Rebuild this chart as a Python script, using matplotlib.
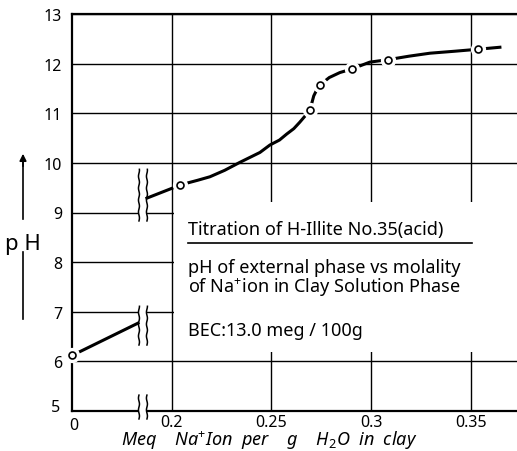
import numpy as np
import matplotlib
matplotlib.use("Agg")
import matplotlib.pyplot as plt
import matplotlib.transforms as mtransforms
from matplotlib.patches import Rectangle

# ---- data ----
# left piece of the broken axis (meq from 0), drawn shifted to the "0" tick
left_meq = [0.0, 0.033]
left_ph = [6.12, 6.77]
left_marker_meq = [0.0]
left_marker_ph = [6.12]

# right piece (true meq scale)
curve_meq = [0.1875, 0.2040, 0.2074, 0.2130, 0.2191, 0.2265, 0.2341, 0.2442,
             0.2492, 0.2540, 0.2576, 0.2612, 0.2642, 0.2676, 0.2692, 0.2702,
             0.2712, 0.2728, 0.2743, 0.2790, 0.2843, 0.2902, 0.2993, 0.3085,
             0.3190, 0.3295, 0.3420, 0.3537, 0.3646]
curve_ph = [9.29, 9.55, 9.59, 9.65, 9.72, 9.85, 10.01, 10.21,
            10.36, 10.46, 10.58, 10.69, 10.82, 10.98, 11.07, 11.20,
            11.35, 11.48, 11.57, 11.72, 11.82, 11.89, 12.03, 12.08,
            12.15, 12.21, 12.25, 12.29, 12.33]
marker_meq = [0.2040, 0.2692, 0.2743, 0.2902, 0.3085, 0.3537]
marker_ph = [9.55, 11.07, 11.57, 11.89, 12.08, 12.29]

xtick_pos = [0.15, 0.2, 0.25, 0.3, 0.35]
xtick_labels = ["0", "0.2", "0.25", "0.3", "0.35"]
yticks = [5, 6, 7, 8, 9, 10, 11, 12, 13]

LEFT_OFFSET = 0.15  # where meq 0 of the left piece sits on the axis
BREAK_X = [0.1835, 0.1875]

plt.rcParams["font.family"] = ["Noto Sans", "DejaVu Sans"]
plt.rcParams["mathtext.fontset"] = "custom"
plt.rcParams["mathtext.rm"] = "Noto Sans"
plt.rcParams["mathtext.it"] = "Noto Sans:italic"

fig = plt.figure(figsize=(5.17, 4.52), dpi=100)
ax = fig.add_axes([72 / 517, 40 / 452, 450 / 517, 397 / 452])
ax.set_xlim(0.1499, 0.1499 + 450 / 1993)
ax.set_ylim(5, 13)

# grid
for y in yticks[1:]:
    ax.axhline(y, color="black", lw=1.0, zorder=1)
for x in xtick_pos[1:]:
    ax.axvline(x, color="black", lw=1.0, zorder=1)

# blank panel that holds the caption
ax.add_patch(Rectangle((0.2012, 6.19), 0.3, 3.02, facecolor="white",
                       edgecolor="none", zorder=1.5))

# break marks (wavy double lines) with a white gap between
def wavy(xc, y0, y1):
    yy = np.linspace(y0, y1, 40)
    xx = xc + 0.00025 * np.sin((yy - y0) / 0.12 * np.pi)
    ax.plot(xx, yy, color="black", lw=1.1, zorder=4, clip_on=False)

for y0, y1 in [(8.83, 9.87), (6.33, 7.11), (4.84, 5.32)]:
    ax.add_patch(Rectangle((BREAK_X[0], y0 + 0.04), BREAK_X[1] - BREAK_X[0],
                           y1 - y0 - 0.08, facecolor="white", edgecolor="none",
                           zorder=3, clip_on=False))
    for xc in BREAK_X:
        wavy(xc, y0, y1)

# curves
lx = [m + LEFT_OFFSET for m in left_meq]
ax.plot(lx, left_ph, color="black", lw=2.2, zorder=5)
ax.plot(curve_meq, curve_ph, color="black", lw=2.2, zorder=5,
        solid_joinstyle="round")
mx = [m + LEFT_OFFSET for m in left_marker_meq] + marker_meq
my = left_marker_ph + marker_ph
ax.plot(mx, my, "o", ms=10, color="white", mec="white", zorder=6, clip_on=False)
ax.plot(mx, my, "o", ms=5, mfc="white", mec="black", mew=1.2, zorder=7,
        clip_on=False)

# spines
for s in ["left", "bottom", "top"]:
    ax.spines[s].set_linewidth(1.6)
ax.spines["right"].set_visible(False)

ax.set_xticks(xtick_pos)
ax.set_xticklabels(xtick_labels)
ax.set_yticks(yticks)
ax.set_yticklabels([str(v) for v in yticks])
ax.tick_params(length=0, labelsize=11.5, pad=7)
ax.tick_params(axis="x", pad=2)

# the "5" sits a bit high, the "0" a bit low, as in the original
lab5 = ax.get_yticklabels()[0]
lab5.set_transform(lab5.get_transform() +
                   mtransforms.ScaledTranslation(-2 / 100, 6 / 100, fig.dpi_scale_trans))
lab0 = ax.get_xticklabels()[0]
lab0.set_transform(lab0.get_transform() +
                   mtransforms.ScaledTranslation(2 / 100, -3 / 100, fig.dpi_scale_trans))

# caption
cx = 0.2082
ax.text(cx, 8.665, "Titration of H-Illite No.35(acid)", fontsize=13,
        va="center", zorder=8)
ax.plot([cx, 0.3505], [8.38, 8.38], color="black", lw=1.2, zorder=8)
ax.text(cx, 7.68,
        "pH of external phase vs molality\nof Na$^{+}$ion in Clay Solution Phase",
        fontsize=13, va="center", linespacing=1.0, zorder=8)
ax.text(cx, 6.63, "BEC:13.0 meg / 100g", fontsize=13, va="center", zorder=8)

# axis titles
fig.text(121 / 517, 1 - 441 / 452,
         "Meq    Na$^{+}$Ion  per    g    H$_2$O  in  clay", fontsize=13,
         style="italic", ha="left", va="center")
fig.text(23 / 517, 1 - 245 / 452, "p H", fontsize=16, ha="center", va="center")
fig.add_artist(plt.Line2D([23 / 517, 23 / 517], [1 - 320 / 452, 1 - 253 / 452],
                          color="black", lw=1.2))
fig.add_artist(plt.Line2D([23 / 517, 23 / 517], [1 - 220 / 452, 1 - 162 / 452],
                          color="black", lw=1.2))
ax.annotate("", xy=(23 / 517, 1 - 152 / 452), xytext=(23 / 517, 1 - 170 / 452),
            xycoords="figure fraction", textcoords="figure fraction",
            arrowprops=dict(arrowstyle="-|>", color="black", lw=1.2,
                            mutation_scale=10))

fig.savefig("out.png", dpi=100)
